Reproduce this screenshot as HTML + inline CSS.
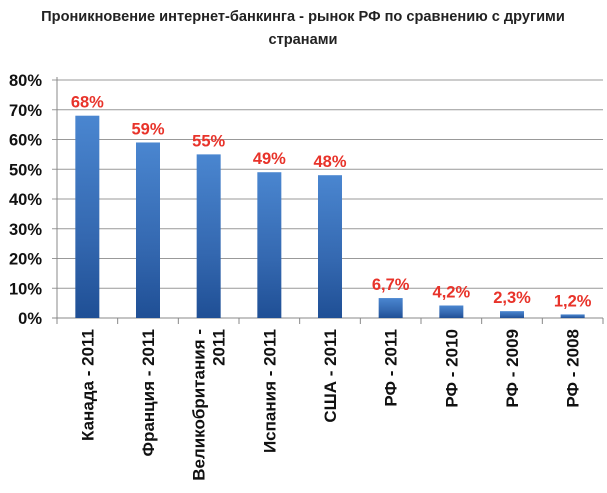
<!DOCTYPE html>
<html><head><meta charset="utf-8"><style>
body{margin:0;background:#fff;}
svg text{font-family:"Liberation Sans",sans-serif;}
</style></head><body>
<svg width="607" height="488" xmlns="http://www.w3.org/2000/svg">
<defs>
<linearGradient id="bg" x1="0" y1="0" x2="0" y2="1">
<stop offset="0" stop-color="#4a86d0"/><stop offset="0.6" stop-color="#3468b0"/><stop offset="1" stop-color="#1f4f95"/>
</linearGradient>
</defs>
<text x="303" y="21" text-anchor="middle" font-size="14.6" font-weight="bold" fill="#222">Проникновение интернет-банкинга - рынок РФ по сравнению с другими</text>
<text x="303" y="44" text-anchor="middle" font-size="14.6" font-weight="bold" fill="#222">странами</text>
<g id="grid"></g><g id="bars"></g><g id="labels"></g>
</svg>
<script>
const categories=["Канада - 2011","Франция - 2011","Великобритания - 2011","Испания - 2011","США - 2011","РФ - 2011","РФ - 2010","РФ - 2009","РФ - 2008"];
const values=[68,59,55,49,48,6.7,4.2,2.3,1.2];
const valueLabels=["68%","59%","55%","49%","48%","6,7%","4,2%","2,3%","1,2%"];
const yTicks=[0,10,20,30,40,50,60,70,80];
const NS="http://www.w3.org/2000/svg";
const x0=57,x1=603,y0=318,yTop=80,yMax=80;
const slot=(x1-x0)/categories.length;
const y=v=>y0-(v/yMax)*(y0-yTop);
const xc=i=>x0+slot*(i+0.5);
function mk(t,a,p){const e=document.createElementNS(NS,t);for(const k in a)e.setAttribute(k,a[k]);p.appendChild(e);return e;}
const g=document.getElementById('grid'),b=document.getElementById('bars'),l=document.getElementById('labels');
yTicks.forEach(t=>{
 const ln=mk('line',{x1:x0-5,x2:x1,y1:y(t),y2:y(t),stroke:t===0?'#888':'#999','stroke-width':1},g);
 
 
 const tx=mk('text',{x:42,y:y(t)+6,'text-anchor':'end','font-size':16.5,'font-weight':'bold',fill:'#111'},g);
 tx.textContent=t+'%';
 
 
});
const ax=mk('line',{x1:x0,x2:x0,y1:yTop-3,y2:y0,stroke:'#888'},g);


for(let i=0;i<=categories.length;i++){
 const tk=mk('line',{x1:x0+slot*i,x2:x0+slot*i,y1:y0,y2:y0+6,stroke:'#888'},g);
 
 
}
categories.forEach((c,i)=>{
 const bw=24,v=values[i];
 const r=mk('rect',{x:xc(i)-bw/2,y:y(v),width:bw,height:y0-y(v),fill:'url(#bg)'},b);
 
 
 const vt=mk('text',{x:xc(i),y:y(v)-8,'text-anchor':'middle','font-size':16.5,'font-weight':'bold',fill:'#e8332a'},l);
 vt.textContent=valueLabels[i];
 
 
 const parts=c==="Великобритания - 2011"?["Великобритания -","2011"]:[c];
 parts.forEach((p,j)=>{
  const dx=parts.length>1?(j===0?-10:10):0;
  const px=xc(i)+6+dx;
  const ct=mk('text',{x:px,y:329,'text-anchor':'end','font-size':17,'font-weight':'bold',fill:'#111',transform:`rotate(-90 ${px} 329)`},l);
  ct.textContent=p;
  
  
 });
});
</script>
</body></html>
